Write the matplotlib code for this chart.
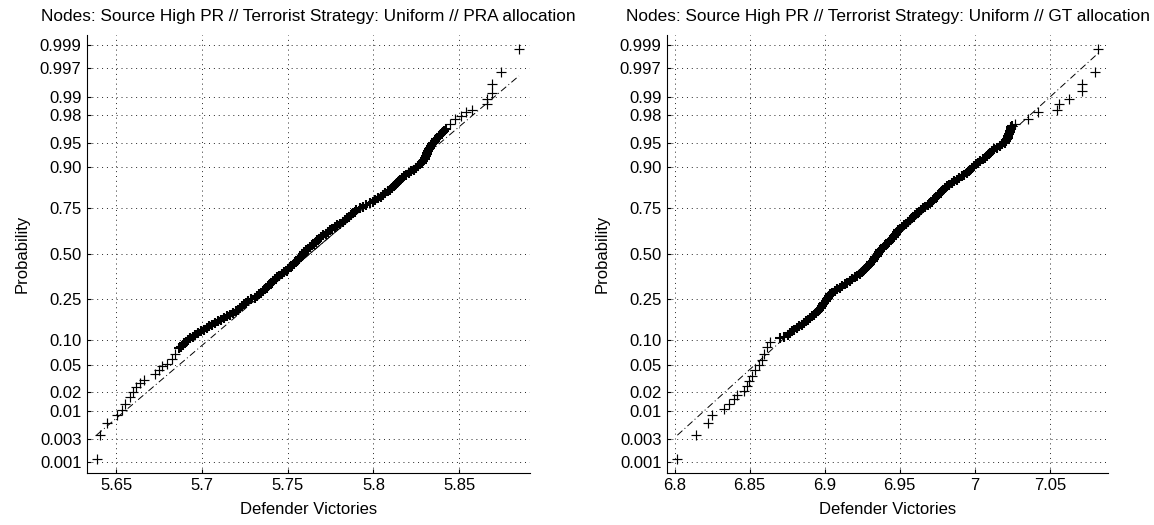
import numpy as np
import matplotlib
matplotlib.use('Agg')
import matplotlib.pyplot as plt
from statistics import NormalDist

# normal probability plots of defender victories (two allocations)

plt.rcParams['font.family'] = ['Liberation Sans', 'DejaVu Sans']

prob_ticks = [0.001, 0.003, 0.01, 0.02, 0.05, 0.10, 0.25, 0.50,
              0.75, 0.90, 0.95, 0.98, 0.99, 0.997, 0.999]
prob_labels = ['0.001', '0.003', '0.01', '0.02', '0.05', '0.10', '0.25', '0.50',
               '0.75', '0.90', '0.95', '0.98', '0.99', '0.997', '0.999']

titles = ['Nodes: Source High PR // Terrorist Strategy: Uniform // PRA allocation',
          'Nodes: Source High PR // Terrorist Strategy: Uniform // GT allocation']

# plotting probabilities of the dense middle part (shared by both panels)
band_p = [0.0808, 0.0846, 0.0885, 0.0926, 0.0968, 0.1011, 0.1056, 0.1103, 0.1151, 0.1200,
          0.1251, 0.1303, 0.1357, 0.1412, 0.1469, 0.1527, 0.1587, 0.1648, 0.1711, 0.1775,
          0.1841, 0.1908, 0.1977, 0.2047, 0.2119, 0.2192, 0.2266, 0.2342, 0.2420, 0.2498,
          0.2578, 0.2660, 0.2743, 0.2827, 0.2912, 0.2998, 0.3085, 0.3174, 0.3264, 0.3354,
          0.3446, 0.3538, 0.3632, 0.3726, 0.3821, 0.3917, 0.4013, 0.4110, 0.4207, 0.4305,
          0.4404, 0.4503, 0.4602, 0.4701, 0.4801, 0.4900, 0.5000, 0.5100, 0.5199, 0.5299,
          0.5398, 0.5497, 0.5596, 0.5695, 0.5793, 0.5890, 0.5987, 0.6083, 0.6179, 0.6274,
          0.6368, 0.6462, 0.6554, 0.6646, 0.6736, 0.6826, 0.6915, 0.7002, 0.7088, 0.7173,
          0.7257, 0.7340, 0.7422, 0.7502, 0.7580, 0.7658, 0.7734, 0.7808, 0.7881, 0.7953,
          0.8023, 0.8092, 0.8159, 0.8225, 0.8289, 0.8352, 0.8413, 0.8473, 0.8531, 0.8588,
          0.8643, 0.8697, 0.8749, 0.8800, 0.8849, 0.8897, 0.8944, 0.8989, 0.9032, 0.9074,
          0.9115, 0.9154, 0.9192, 0.9229, 0.9265, 0.9299, 0.9332, 0.9363, 0.9394, 0.9424,
          0.9452, 0.9479, 0.9505, 0.9530, 0.9554, 0.9577, 0.9599, 0.9620, 0.9641, 0.9660,
          0.9678, 0.9696, 0.9713]

# PRA allocation: ordered defender victories
pra_low_x = [5.6386, 5.6406, 5.6449, 5.6503, 5.6532, 5.6552, 5.6581, 5.6600, 5.6618, 5.6640,
             5.6665, 5.6728, 5.6748, 5.6767, 5.6796, 5.6825, 5.6845]
pra_low_p = [0.0012, 0.0036, 0.0060, 0.0083, 0.0104, 0.0129, 0.0168, 0.0202, 0.0241, 0.0276,
             0.0306, 0.0378, 0.0420, 0.0476, 0.0516, 0.0600, 0.0693]
pra_band_x = [5.6866, 5.6876, 5.6887, 5.6896, 5.6906, 5.6919, 5.6932, 5.6946, 5.6961, 5.6977,
              5.6993, 5.7010, 5.7027, 5.7044, 5.7061, 5.7078, 5.7096, 5.7113, 5.7130, 5.7147,
              5.7164, 5.7180, 5.7197, 5.7210, 5.7223, 5.7235, 5.7247, 5.7258, 5.7270, 5.7288,
              5.7307, 5.7320, 5.7334, 5.7345, 5.7356, 5.7366, 5.7377, 5.7386, 5.7396, 5.7406,
              5.7417, 5.7427, 5.7437, 5.7451, 5.7465, 5.7480, 5.7494, 5.7504, 5.7515, 5.7524,
              5.7534, 5.7543, 5.7553, 5.7563, 5.7573, 5.7581, 5.7590, 5.7597, 5.7604, 5.7617,
              5.7630, 5.7643, 5.7655, 5.7663, 5.7672, 5.7682, 5.7692, 5.7707, 5.7722, 5.7733,
              5.7745, 5.7760, 5.7774, 5.7790, 5.7806, 5.7820, 5.7834, 5.7845, 5.7856, 5.7867,
              5.7879, 5.7890, 5.7901, 5.7920, 5.7939, 5.7959, 5.7979, 5.7995, 5.8011, 5.8026,
              5.8042, 5.8056, 5.8070, 5.8082, 5.8094, 5.8106, 5.8118, 5.8127, 5.8137, 5.8147,
              5.8157, 5.8166, 5.8176, 5.8191, 5.8206, 5.8220, 5.8235, 5.8247, 5.8259, 5.8271,
              5.8283, 5.8290, 5.8298, 5.8302, 5.8306, 5.8310, 5.8314, 5.8318, 5.8323, 5.8328,
              5.8334, 5.8341, 5.8349, 5.8356, 5.8364, 5.8374, 5.8384, 5.8393, 5.8403, 5.8413,
              5.8424]
pra_band_p = band_p[:131]
pra_high_x = [5.8449, 5.8478, 5.8508, 5.8537, 5.8576, 5.8664, 5.8664, 5.8693, 5.8693, 5.8745,
              5.8848]
pra_high_p = [0.9733, 0.9768, 0.9793, 0.9821, 0.9834, 0.9866, 0.9892, 0.9915, 0.9940, 0.9965,
              0.99878]
pra_quartiles = [5.7316, 5.7940]

# GT allocation
gt_low_x = [6.8019, 6.8143, 6.8224, 6.8253, 6.8330, 6.8361, 6.8394, 6.8416, 6.8465, 6.8483,
            6.8494, 6.8517, 6.8539, 6.8562, 6.8584, 6.8595, 6.8617, 6.8639]
gt_low_p = [0.0012, 0.0036, 0.0060, 0.0086, 0.0108, 0.0129, 0.0159, 0.0179, 0.0208, 0.0255,
            0.0295, 0.0357, 0.0420, 0.0491, 0.0582, 0.0693, 0.0833, 0.0953]
gt_band_x = [6.8705, 6.8730, 6.8755, 6.8770, 6.8784, 6.8799, 6.8814, 6.8831, 6.8848, 6.8862,
             6.8877, 6.8891, 6.8905, 6.8918, 6.8931, 6.8943, 6.8955, 6.8964, 6.8973, 6.8982,
             6.8991, 6.8999, 6.9007, 6.9015, 6.9022, 6.9029, 6.9036, 6.9051, 6.9067, 6.9083,
             6.9100, 6.9117, 6.9134, 6.9150, 6.9167, 6.9183, 6.9200, 6.9217, 6.9234, 6.9246,
             6.9258, 6.9269, 6.9280, 6.9291, 6.9303, 6.9311, 6.9320, 6.9328, 6.9337, 6.9346,
             6.9355, 6.9363, 6.9372, 6.9383, 6.9394, 6.9405, 6.9416, 6.9427, 6.9438, 6.9450,
             6.9461, 6.9467, 6.9473, 6.9481, 6.9489, 6.9501, 6.9514, 6.9527, 6.9540, 6.9553,
             6.9566, 6.9580, 6.9593, 6.9605, 6.9618, 6.9630, 6.9643, 6.9656, 6.9670, 6.9686,
             6.9702, 6.9713, 6.9724, 6.9735, 6.9746, 6.9757, 6.9768, 6.9780, 6.9791, 6.9802,
             6.9813, 6.9830, 6.9846, 6.9863, 6.9880, 6.9896, 6.9913, 6.9930, 6.9946, 6.9959,
             6.9971, 6.9981, 6.9992, 7.0007, 7.0022, 7.0037, 7.0052, 7.0067, 7.0082, 7.0093,
             7.0104, 7.0117, 7.0130, 7.0148, 7.0167, 7.0183, 7.0200, 7.0209, 7.0218, 7.0221,
             7.0225, 7.0228, 7.0232, 7.0236, 7.0240, 7.0243, 7.0247]
gt_band_p = band_p[6:]
gt_high_x = [7.0268, 7.0357, 7.0423, 7.0546, 7.0563, 7.0628, 7.0716, 7.0716, 7.0801, 7.0823]
gt_high_p = [0.9733, 0.9772, 0.9821, 0.9834, 0.9866, 0.9892, 0.9920, 0.9940, 0.9965, 0.99878]
gt_quartiles = [6.9016, 6.9684]

x_ticks = [[5.65, 5.7, 5.75, 5.8, 5.85], [6.8, 6.85, 6.9, 6.95, 7.0, 7.05]]
x_lims = [(5.633, 5.891), (6.795, 7.089)]

nd = NormalDist()
_ppf = np.vectorize(nd.inv_cdf, otypes=[float])
_cdf = np.vectorize(nd.cdf, otypes=[float])


def probit(p):
    p = np.clip(np.asarray(p, dtype=float), 1e-12, 1 - 1e-12)
    return _ppf(p)


def unprobit(z):
    return _cdf(np.asarray(z, dtype=float))


fig = plt.figure(figsize=(11.54, 5.25), dpi=100)
positions = [[0.0754, 0.0996, 0.3835, 0.8337], [0.578, 0.0996, 0.3824, 0.8337]]
panels = [
    (pra_low_x, pra_low_p, pra_band_x, pra_band_p, pra_high_x, pra_high_p, pra_quartiles),
    (gt_low_x, gt_low_p, gt_band_x, gt_band_p, gt_high_x, gt_high_p, gt_quartiles),
]

for i, (lx, lp, bx, bp, hx, hp, q) in enumerate(panels):
    ax = fig.add_axes(positions[i])
    ax.set_yscale('function', functions=(probit, unprobit))

    # reference line through the quartiles, extended over the data range
    z1, z3 = nd.inv_cdf(0.25), nd.inv_cdf(0.75)
    slope = (z3 - z1) / (q[1] - q[0])
    xmin, xmax = min(lx), max(hx)
    line_p = [nd.cdf(z1 + (v - q[0]) * slope) for v in (xmin, xmax)]
    ax.plot([xmin, xmax], line_p, color='black', lw=0.7, dashes=(7, 3, 1, 3))
    ax.plot(q, [0.25, 0.75], color='black', lw=0.7)

    # tails show single crosses, the crowded middle merges into a thick band
    ax.plot(lx + hx, lp + hp, '+', color='black', markersize=6.5, markeredgewidth=0.85)
    ax.plot(bx, bp, '+', color='black', markersize=6.5, markeredgewidth=1.5)

    ax.set_xlim(x_lims[i])
    ax.set_ylim(0.00059, 0.99941)
    ax.set_yticks(prob_ticks)
    ax.set_yticklabels(prob_labels)
    ax.set_xticks(x_ticks[i])
    ax.set_xticklabels(['%g' % t for t in x_ticks[i]])
    ax.grid(True, color='0.15', linestyle=(0, (1, 4)), linewidth=0.7)
    for s in ['top', 'right']:
        ax.spines[s].set_visible(False)
    ax.spines['left'].set_linewidth(0.8)
    ax.spines['bottom'].set_linewidth(0.8)
    ax.tick_params(direction='in', length=3, width=0.8, labelsize=12, pad=4)
    ax.set_xlabel('Defender Victories', fontsize=12, labelpad=6)
    ax.set_ylabel('Probability', fontsize=12, labelpad=7)
    ax.set_title(titles[i], fontsize=12.4, pad=10)

plt.savefig('out.png', dpi=100)
